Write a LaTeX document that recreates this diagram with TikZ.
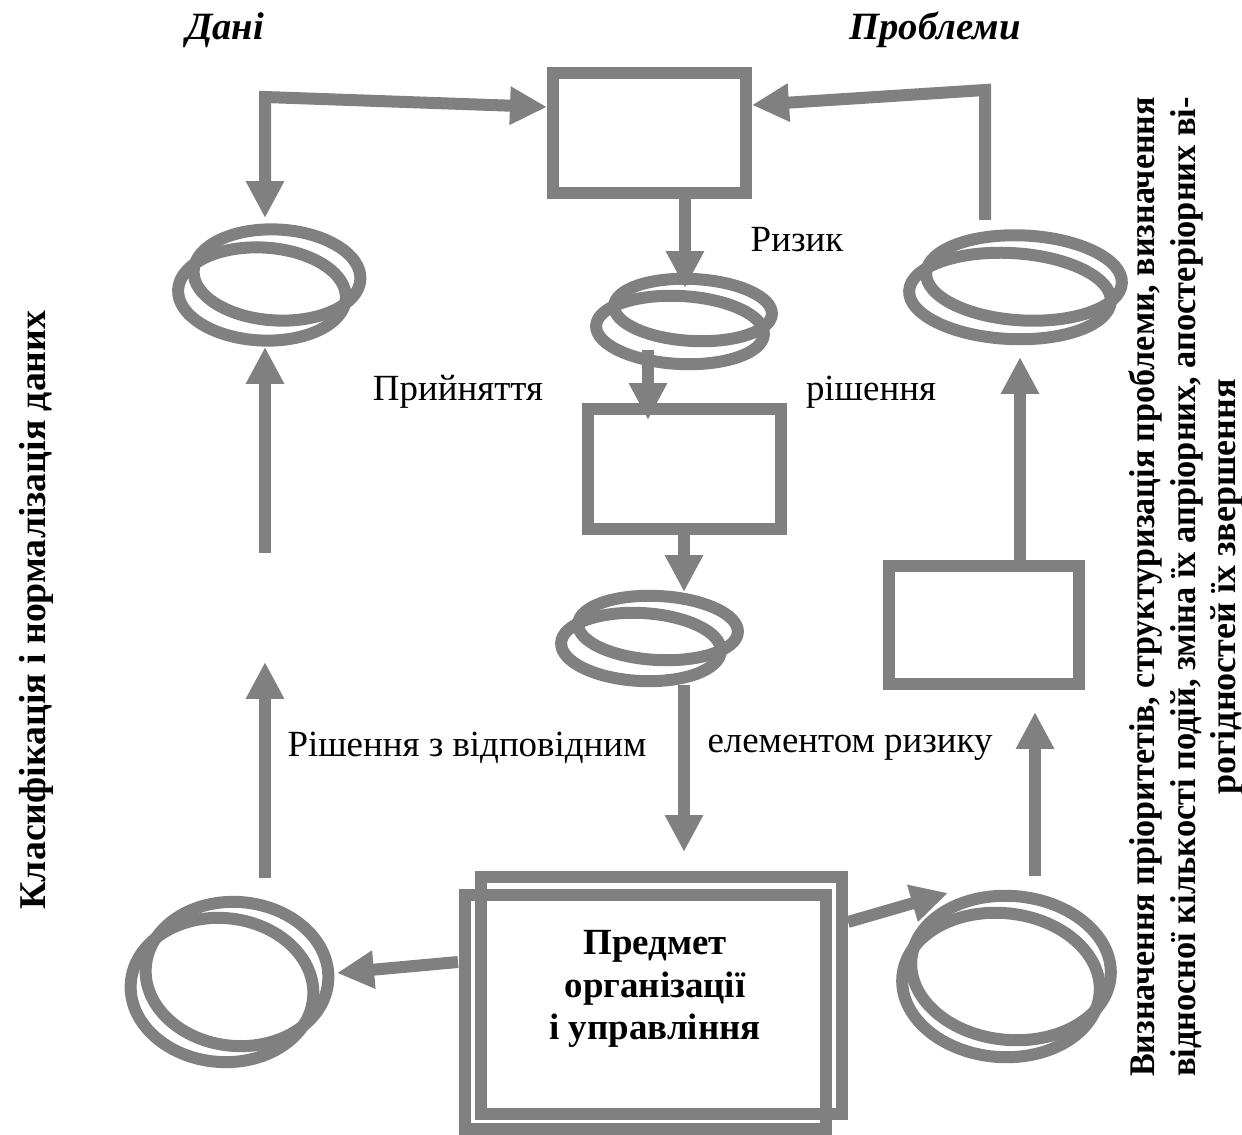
\documentclass[tikz,border=0pt]{standalone}
\usepackage{fontspec}
\setmainfont{Liberation Serif}
\usetikzlibrary{arrows.meta,shapes.geometric}
\definecolor{dg}{HTML}{808080}
\begin{document}
\begin{tikzpicture}[x=0.02cm,y=-0.02cm,
  lw/.style={line width=0.24cm, draw=dg},
  box/.style={lw, rectangle, inner sep=0pt, outer sep=0pt},
  ring/.style={lw, ellipse, inner sep=0pt, outer sep=0pt},
  tip/.tip={Triangle[length=0.74cm,width=0.72cm]},
  arr/.style={lw, -tip},
  lbl/.style={font=\fontsize{21}{25}\selectfont, inner sep=0pt},
  blbl/.style={font=\fontsize{21}{24.4}\selectfont\bfseries, inner sep=0pt, align=center},
  ttl/.style={font=\fontsize{22}{26}\selectfont\bfseries\itshape, inner sep=0pt},
]
\useasboundingbox (0,0) rectangle (1242,1135);

% titles
\node[ttl] (tData) at (225,30) {Дані};
\node[ttl] (tProb) at (935,30) {Проблеми};

% rectangles
\node[box, minimum width=3.86cm, minimum height=2.4cm] (rTop) at (649.5,133) {};
\node[box, minimum width=3.86cm, minimum height=2.4cm] (rMid) at (684.5,469) {};
\node[box, minimum width=3.8cm, minimum height=2.36cm] (rRight) at (984,625) {};
\node[box, minimum width=7.22cm, minimum height=4.74cm] (rBigB) at (661.5,995.5) {};
\node[box, minimum width=7.22cm, minimum height=4.68cm] (rBigF) at (645.5,1012) {};
\node[blbl] (bigTxt) at (655,989) {Предмет\\організації\\ і управління};

% double ellipses
\node[ring, minimum width=3.34cm, minimum height=1.82cm, rotate=-3] (eTLf) at (277,275) {};
\node[ring, minimum width=3.36cm, minimum height=1.86cm, rotate=-3] (eTLb) at (262,294) {};
\node[ring, minimum width=3.92cm, minimum height=1.7cm, rotate=-3] (eTRf) at (1024,278) {};
\node[ring, minimum width=4.04cm, minimum height=1.72cm, rotate=-3] (eTRb) at (1010,296) {};
\node[ring, minimum width=3.16cm, minimum height=1.24cm, rotate=-3] (eM1f) at (693,310) {};
\node[ring, minimum width=3.36cm, minimum height=1.36cm, rotate=-3] (eM1b) at (680,330) {};
\node[ring, minimum width=3.2cm, minimum height=1.28cm, rotate=-3] (eM2f) at (658,628) {};
\node[ring, minimum width=3.2cm, minimum height=1.36cm, rotate=-3] (eM2b) at (641,647) {};
\node[ring, minimum width=3.66cm, minimum height=2.88cm, rotate=-5] (eBLf) at (237,974) {};
\node[ring, minimum width=3.66cm, minimum height=2.88cm, rotate=-5] (eBLb) at (222,990) {};
\node[ring, minimum width=4.0cm, minimum height=2.88cm, rotate=-5] (eBRf) at (1011,968) {};
\node[ring, minimum width=3.96cm, minimum height=2.88cm, rotate=-5] (eBRb) at (1001,985) {};

% connector points
\coordinate (cTLtip) at (265,218);
\coordinate (cTLcorner) at (265,97);
\coordinate (cTLend) at (547,107);
\coordinate (cTRstart) at (985,220);
\coordinate (cTRcorner) at (985,90);
\coordinate (cTRend) at (752,105);
\coordinate (cA1) at (685,199);
\coordinate (cA2) at (685,288);
\coordinate (cB1) at (648,350);
\coordinate (cB2) at (648,420);
\coordinate (cC1) at (684,535);
\coordinate (cC2) at (684,592);
\coordinate (cD1) at (684,685);
\coordinate (cD2) at (684,852);
\coordinate (cE1) at (458,962);
\coordinate (cE2) at (337,973);
\coordinate (cF1) at (848,922);
\coordinate (cF2) at (948,893);
\coordinate (cG1) at (1035,876);
\coordinate (cG2) at (1035,712);
\coordinate (cH1) at (1020,560);
\coordinate (cH2) at (1020,357);
\coordinate (cL1) at (265,878);
\coordinate (cL2) at (265,662);
\coordinate (cL3) at (265,553);
\coordinate (cL4) at (265,347);

% connectors
\draw[lw, tip-tip] (cTLtip) -- (cTLcorner) -- (cTLend);
\draw[arr] (cTRstart) -- (cTRcorner) -- (cTRend);
\draw[arr] (cA1) -- (cA2);
\draw[arr] (cB1) -- (cB2);
\draw[arr] (cC1) -- (cC2);
\draw[arr] (cD1) -- (cD2);
\draw[arr] (cE1) -- (cE2);
\draw[arr] (cF1) -- (cF2);
\draw[arr] (cG1) -- (cG2);
\draw[arr] (cH1) -- (cH2);
\draw[arr] (cL1) -- (cL2);
\draw[arr] (cL3) -- (cL4);

% labels
\node[lbl] (lRisk) at (797,240) {Ризик};
\node[lbl] (lAcc) at (458,392) {Прийняття};
\node[lbl] (lDec) at (871,392) {рішення};
\node[lbl] (lSol) at (467,748) {Рішення з відповідним};
\node[lbl] (lElem) at (850,748) {елементом ризику};

% side texts
\node[blbl, rotate=90, font=\fontsize{21.5}{25}\selectfont\bfseries] (sideL) at (36,610) {Класифікація і нормалізація даних};
\node[blbl, rotate=90, font=\fontsize{20.5}{23}\selectfont\bfseries] (sideR) at (1186,587)
  {\resizebox{19.6cm}{\height}{Визначення пріоритетів, структуризація проблеми, визначення}\\
   \resizebox{19.6cm}{\height}{відносної кількості подій, зміна їх апріорних, апостеріорних ві-}\\
   рогідностей їх звершення};
\end{tikzpicture}
\end{document}
